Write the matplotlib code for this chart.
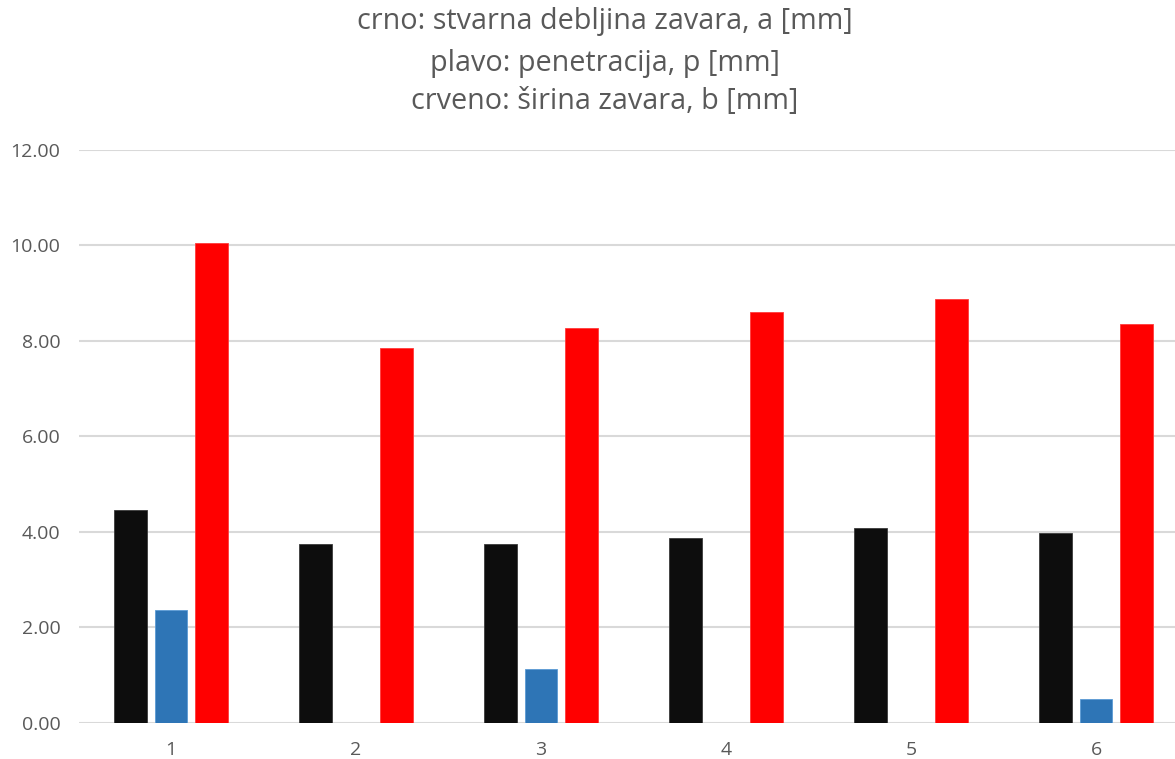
import matplotlib
matplotlib.use("Agg")
import matplotlib.pyplot as plt
import numpy as np

categories = ["1", "2", "3", "4", "5", "6"]
debljina_a = [4.45, 3.75, 3.75, 3.86, 4.08, 3.97]
penetracija_p = [2.37, 0.0, 1.13, 0.0, 0.0, 0.50]
sirina_b = [10.06, 7.86, 8.26, 8.61, 8.87, 8.35]
title_lines = ["crno: stvarna debljina zavara, a [mm]",
               "plavo: penetracija, p [mm]",
               "crveno: širina zavara, b [mm]"]

W, H = 1175, 759
fig = plt.figure(figsize=(W / 100, H / 100), dpi=100)
left, right, bottom, top = 78.5, 1188.5, 722.7, 150.0
ax = fig.add_axes([left / W, (H - bottom) / H, (right - left) / W, (bottom - top) / H])

x = np.arange(len(categories))
bw = 0.178
off = 0.219
ax.bar(x - off, debljina_a, bw, color="#0d0d0d", edgecolor="#3a3a3a", linewidth=0.6, zorder=3)
ax.bar(x, penetracija_p, bw, color="#2e75b6", edgecolor="#5b9bd5", linewidth=0.6, zorder=3)
ax.bar(x + off, sirina_b, bw, color="#ff0000", edgecolor="#ff3b3b", linewidth=0.6, zorder=3)

ax.set_xlim(-0.5, len(categories) - 0.5)
ax.set_ylim(0, 12)
ax.set_yticks(np.arange(0, 12.01, 2))
ax.set_yticklabels([f"{v:.2f}" for v in np.arange(0, 12.01, 2)])
ax.set_xticks(x)
ax.set_xticklabels(categories)
ax.grid(axis="y", color="#d9d9d9", linewidth=1.5, zorder=0)
ax.set_axisbelow(True)
for s in ax.spines.values():
    s.set_visible(False)
ax.tick_params(length=0, labelsize=14, labelcolor="#595959")
ax.tick_params(axis="x", pad=13)
ax.tick_params(axis="y", pad=13)
for lab in ax.get_xticklabels() + ax.get_yticklabels():
    lab.set_fontfamily("Open Sans")

ys = [22, 63, 102]
for t, yy in zip(title_lines, ys):
    fig.text(605 / W, 1 - yy / H, t, ha="center", va="center", fontsize=20.7,
             color="#595959", fontfamily="Open Sans")

fig.savefig("out.png", dpi=100)
